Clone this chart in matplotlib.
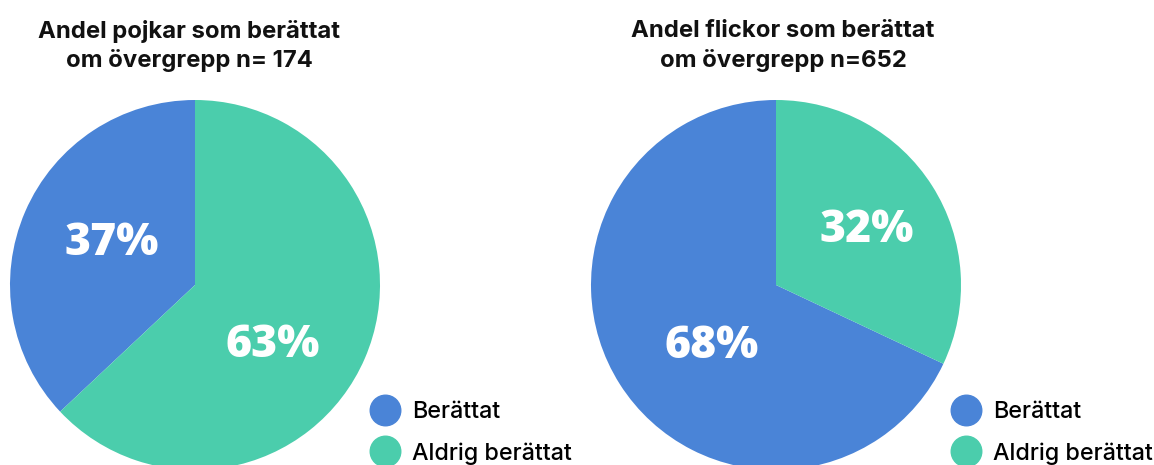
import matplotlib
matplotlib.use("Agg")
import matplotlib.pyplot as plt
from matplotlib.lines import Line2D

# ---- data ----
categories = ["Berättat", "Aldrig berättat"]
boys_values = [37, 63]
girls_values = [68, 32]
titles = ["Andel pojkar som berättat\nom övergrepp n= 174",
          "Andel flickor som berättat\nom övergrepp n=652"]
colors = ["#4A84D7", "#4BCDAC"]

# ---- layout ----
W, H = 1154, 465
R = 185
centers = [(195, 285), (776, 285)]
# label positions in pie units (radius = 1)
label_pos = [[(-0.45, 0.24), (0.42, -0.31)],
             [(-0.35, -0.32), (0.49, 0.31)]]
title_x = [189, 783]
legend_x = [385, 966]

fig = plt.figure(figsize=(W / 100, H / 100), dpi=100)
fig.patch.set_facecolor("white")

for i, vals in enumerate([boys_values, girls_values]):
    cx, cy = centers[i]
    ax = fig.add_axes([(cx - R) / W, (H - cy - R) / H, 2 * R / W, 2 * R / H])
    wedges, texts, autotexts = ax.pie(
        vals, colors=colors, startangle=90, counterclock=True,
        autopct=lambda p: f"{p:.0f}%", pctdistance=0.5,
        wedgeprops=dict(linewidth=0),
        textprops=dict(color="white", fontsize=32, fontweight="heavy",
                       family=["Open Sans", "DejaVu Sans"]))
    for t, pos in zip(autotexts, label_pos[i]):
        t.set_position((pos[0], pos[1] - 0.015))
        t.set_va("center")
        t.set_ha("center")
    for w in wedges:
        w.set_clip_on(False)
    ax.set_xlim(-1, 1)
    ax.set_ylim(-1, 1)
    ax.set_aspect("equal")
    ax.axis("off")

    fig.text(title_x[i] / W, (H - 46) / H, titles[i], ha="center", va="center",
             fontsize=17.2, fontweight="bold", linespacing=1.38,
             family=["Inter", "DejaVu Sans"], color="#111111")

    handles = [Line2D([0], [0], marker="o", linestyle="none", markersize=22,
                      markerfacecolor=c, markeredgecolor=c) for c in colors]
    fs = 16.8
    leg = fig.legend(handles, categories, loc="center left",
                     bbox_to_anchor=((legend_x[i] - 0.75 * fs * 100 / 72) / W, (H - 433) / H),
                     frameon=False, fontsize=fs, handlelength=1.5,
                     handletextpad=0.42, labelspacing=0.8, borderpad=0,
                     borderaxespad=0, prop=dict(family=["Inter", "DejaVu Sans"],
                                                weight="medium", size=fs))

fig.savefig("out.png", dpi=100, facecolor="white")
